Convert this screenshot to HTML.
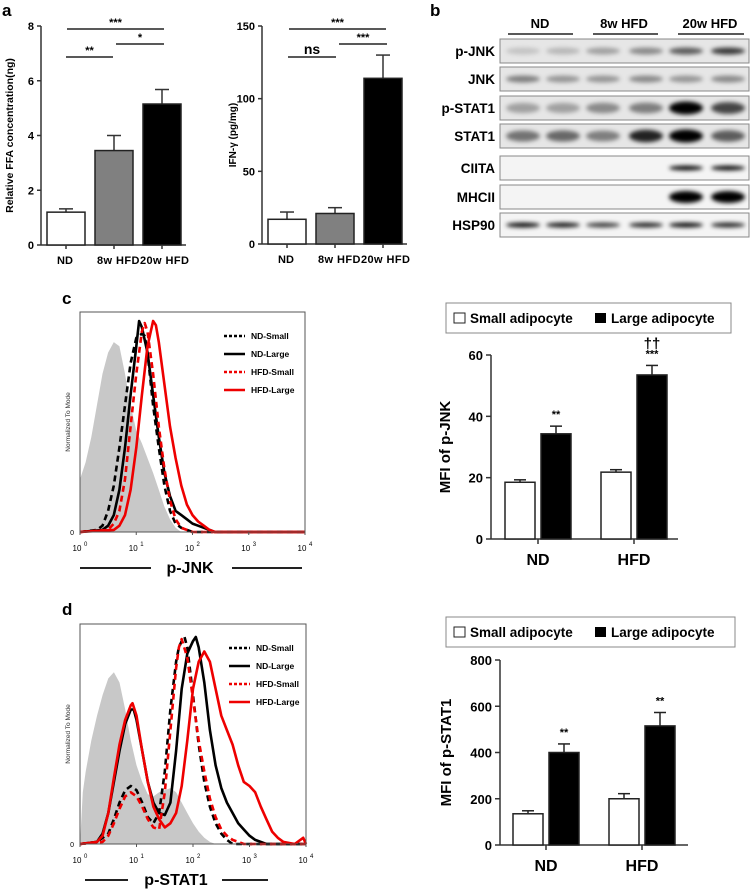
<!DOCTYPE html>
<html><head><meta charset="utf-8"><style>
html,body{margin:0;padding:0;background:#fff}
svg{display:block;font-family:"Liberation Sans",Arial,sans-serif}
.b{font-weight:bold}
</style></head><body>
<svg id="fig" width="753" height="889" viewBox="0 0 753 889" xmlns="http://www.w3.org/2000/svg">
<defs>
<filter id="blur" x="-50%" y="-100%" width="200%" height="300%"><feGaussianBlur stdDeviation="2.2"/></filter>
</defs>
<text x="2" y="16" font-size="17" class="b">a</text>
<text x="430" y="16" font-size="17" class="b">b</text>
<text x="62" y="304" font-size="17" class="b">c</text>
<text x="62" y="615" font-size="17" class="b">d</text>
<g id="g-ffa"></g>
<g id="g-ifn"></g>
<g id="g-blot"></g>
<g id="g-hc"></g>
<g id="g-hd"></g>
<g id="g-bc"></g>
<g id="g-bd"></g>
</svg>
<script>
// ---- Panel a data ----
const ffaCats = ["ND","8w HFD","20w HFD"];
const ffaVals = [1.2,3.45,5.15];
const ffaErr = [1.32,4.0,5.68];
const ffaTicks = [0,2,4,6,8];
const ifnCats = ["ND","8w HFD","20w HFD"];
const ifnVals = [17,21,114];
const ifnErr = [22,25,130];
const ifnTicks = [0,50,100,150];
// ---- Panel c/d bar data ----
const mfiCats = ["ND","HFD"];
const jnkSmall = [18.5,21.8];
const jnkLarge = [34.3,53.5];
const jnkSmallErr = [19.3,22.6];
const jnkLargeErr = [36.8,56.6];
const jnkTicks = [0,20,40,60];
const statSmall = [135,200];
const statLarge = [400,515];
const statSmallErr = [148,222];
const statLargeErr = [437,573];
const statTicks = [0,200,400,600,800];
// ---- histogram data (log10 intensity, normalized height) ----
const cGrayX=[0,0.1,0.2,0.3,0.4,0.5,0.6,0.7,0.8,0.9,1.0,1.1,1.2,1.3,1.4,1.5,1.6,1.7,1.8];
const cGrayY=[0.25,0.33,0.45,0.6,0.75,0.85,0.9,0.88,0.75,0.6,0.48,0.42,0.35,0.28,0.2,0.12,0.06,0.02,0];
const cNdSX=[0,0.3,0.4,0.5,0.6,0.7,0.8,0.9,1.0,1.1,1.15,1.2,1.3,1.4,1.5,1.6,1.7,1.8,1.9,2.0,4];
const cNdSY=[0,0.01,0.03,0.1,0.22,0.4,0.6,0.8,0.92,0.94,0.93,0.85,0.6,0.4,0.22,0.1,0.04,0.02,0.01,0,0];
const cNdLX=[0,0.4,0.5,0.6,0.7,0.8,0.9,1.0,1.05,1.1,1.2,1.3,1.4,1.5,1.6,1.7,1.8,1.9,2.0,2.1,2.2,2.3,2.4,4];
const cNdLY=[0,0.01,0.03,0.08,0.2,0.4,0.65,0.88,1.0,0.97,0.85,0.65,0.45,0.28,0.17,0.1,0.08,0.06,0.04,0.03,0.02,0.01,0,0];
const cHfSX=[0,0.5,0.6,0.7,0.8,0.9,1.0,1.1,1.15,1.2,1.3,1.4,1.5,1.6,1.7,1.8,1.9,2.0,4];
const cHfSY=[0,0.01,0.04,0.1,0.25,0.5,0.75,0.95,0.99,0.95,0.75,0.5,0.3,0.15,0.06,0.02,0.01,0,0];
const cHfLX=[0,0.6,0.7,0.8,0.9,1.0,1.1,1.2,1.3,1.35,1.4,1.5,1.6,1.7,1.8,1.9,2.0,2.1,2.2,2.3,2.4,4];
const cHfLY=[0,0.01,0.03,0.08,0.2,0.4,0.65,0.88,1.0,0.98,0.9,0.7,0.5,0.35,0.22,0.13,0.08,0.05,0.03,0.01,0,0];
const dGrayX=[0,0.05,0.1,0.2,0.3,0.4,0.5,0.6,0.7,0.8,0.9,1.0,1.1,1.2,1.3,1.4,1.5,1.6,1.7,1.8,1.9,2.0,2.1,2.2,2.3,2.4];
const dGrayY=[0,0.25,0.35,0.5,0.62,0.72,0.8,0.83,0.78,0.65,0.5,0.38,0.3,0.24,0.23,0.25,0.26,0.27,0.25,0.2,0.15,0.1,0.06,0.03,0.01,0];
const dNdSX=[0,0.3,0.5,0.6,0.7,0.8,0.9,1.0,1.1,1.2,1.3,1.4,1.5,1.6,1.7,1.75,1.8,1.85,1.9,2.0,2.1,2.2,2.3,2.4,2.5,2.6,2.7,4];
const dNdSY=[0,0.01,0.05,0.12,0.2,0.26,0.28,0.26,0.2,0.13,0.1,0.15,0.35,0.65,0.88,0.95,0.98,1.0,0.95,0.72,0.48,0.3,0.18,0.1,0.05,0.02,0,0];
const dNdLX=[0,0.3,0.4,0.5,0.6,0.7,0.8,0.9,0.95,1.0,1.1,1.2,1.3,1.4,1.5,1.6,1.7,1.8,1.9,2.0,2.05,2.1,2.2,2.3,2.4,2.5,2.6,2.7,2.8,2.9,3.0,3.1,3.3,4];
const dNdLY=[0,0.01,0.05,0.15,0.3,0.45,0.58,0.65,0.65,0.6,0.45,0.3,0.2,0.15,0.14,0.2,0.45,0.75,0.92,0.98,1.0,0.95,0.78,0.55,0.38,0.27,0.2,0.15,0.1,0.07,0.04,0.02,0,0];
const dHfSX=[0,0.4,0.5,0.6,0.7,0.8,0.9,1.0,1.1,1.2,1.3,1.4,1.5,1.6,1.7,1.75,1.8,1.9,2.0,2.1,2.2,2.3,2.4,2.5,2.6,2.7,2.8,2.9,4];
const dHfSY=[0,0.01,0.04,0.1,0.17,0.23,0.25,0.23,0.18,0.12,0.08,0.07,0.25,0.55,0.85,0.95,0.99,0.9,0.7,0.5,0.35,0.22,0.13,0.07,0.04,0.02,0.01,0,0];
const dHfLX=[0,0.3,0.4,0.5,0.6,0.7,0.8,0.9,0.93,1.0,1.1,1.2,1.3,1.4,1.5,1.6,1.7,1.8,1.9,2.0,2.1,2.2,2.3,2.4,2.5,2.6,2.7,2.8,2.9,3.0,3.1,3.2,3.3,3.4,3.5,3.6,3.8,3.95,4];
const dHfLY=[0,0.01,0.04,0.15,0.32,0.48,0.6,0.67,0.68,0.62,0.45,0.3,0.18,0.12,0.08,0.1,0.15,0.28,0.5,0.75,0.88,0.93,0.88,0.75,0.62,0.55,0.48,0.38,0.3,0.28,0.25,0.18,0.12,0.06,0.03,0.01,0,0.03,0];
const histTicks = ["0","1","2","3","4"];
// ---- blot intensities ----
const blotRows=["p-JNK","JNK","p-STAT1","STAT1","CIITA","MHCII","HSP90"];
const blotInt=[[0.15,0.2,0.3,0.4,0.6,0.75],[0.45,0.35,0.35,0.4,0.35,0.4],[0.3,0.3,0.4,0.45,1,0.7],[0.5,0.55,0.45,0.85,1,0.6],[0,0,0,0,0.95,0.95],[0,0,0,0,1,1],[0.95,0.9,0.75,0.85,0.95,0.85]];

const NS="http://www.w3.org/2000/svg";
function mk(parent,tag,attrs,txt){const e=document.createElementNS(NS,tag);for(const k in attrs)e.setAttribute(k,attrs[k]);if(txt!==undefined)e.textContent=txt;parent.appendChild(e);return e;}

// simple 3-bar chart
function barChart3(id,cats,vals,errs,ticks,o){
  const g=document.getElementById(id);
  const ys=v=>o.y0-(v/o.max)*(o.y0-o.yTop);
  const colors=["#fff","#808080","#000"];
  mk(g,"line",{x1:o.ax,y1:o.yTop,x2:o.ax,y2:o.y0,stroke:"#333","stroke-width":1.5});
  mk(g,"line",{x1:o.ax,y1:o.y0,x2:o.ax+o.w,y2:o.y0,stroke:"#333","stroke-width":1.5});
  ticks.forEach(t=>{
    mk(g,"line",{x1:o.ax-4,y1:ys(t),x2:o.ax,y2:ys(t),stroke:"#333","stroke-width":1.5});
    const tl=mk(g,"text",{x:o.ax-7,y:ys(t)+4,"font-size":11,"text-anchor":"end",class:"b"},String(t));
    
    
  });
  cats.forEach((c,i)=>{
    const x=o.ax+o.off+i*o.step, cx=x+o.bw/2;
    mk(g,"line",{x1:cx,y1:ys(errs[i]),x2:cx,y2:ys(vals[i]),stroke:"#333","stroke-width":1.5});
    mk(g,"line",{x1:cx-7,y1:ys(errs[i]),x2:cx+7,y2:ys(errs[i]),stroke:"#333","stroke-width":1.5});
    const r=mk(g,"rect",{x:x,y:ys(vals[i]),width:o.bw,height:o.y0-ys(vals[i]),fill:colors[i],stroke:"#222","stroke-width":1.5});
    
    
    mk(g,"line",{x1:cx,y1:o.y0,x2:cx,y2:o.y0+4,stroke:"#333","stroke-width":1.5});
  });
  const xl=mk(g,"text",{x:o.ax+o.off+o.bw/2-9,y:o.y0+19,"font-size":11,class:"b"},"ND");
  
  
  const xl2=mk(g,"text",{x:o.ax+o.off+o.step+2,y:o.y0+19,"font-size":11,class:"b","textLength":o.step*2-4},"8w HFD20w HFD");
  
  
  const yt=mk(g,"text",{x:0,y:0,"font-size":o.tfs,class:"b","text-anchor":"middle",transform:`translate(${o.tx},${(o.yTop+o.y0)/2}) rotate(-90)`},o.title);
  
  
  o.sig.forEach(s=>{
    mk(g,"line",{x1:s[0],y1:s[2],x2:s[1],y2:s[2],stroke:"#222","stroke-width":1.5});
    const st=mk(g,"text",{x:(s[0]+s[1])/2,y:s[2]-3,"font-size":s[3]==="ns"?14:11,class:"b","text-anchor":"middle"},s[3]);
    
    
  });
}
barChart3("g-ffa",ffaCats,ffaVals,ffaErr,ffaTicks,{ax:41,y0:245,yTop:26,max:8,w:145,off:6,step:48,bw:38,tx:13,tfs:10.5,title:"Relative FFA concentration(ng)",
  sig:[[67,164,29,"***"],[66,113,57,"**"],[116,164,44,"*"]]});
barChart3("g-ifn",ifnCats,ifnVals,ifnErr,ifnTicks,{ax:262,y0:244,yTop:26,max:150,w:145,off:6,step:48,bw:38,tx:236,tfs:10,title:"IFN-γ (pg/mg)",
  sig:[[289,386,29,"***"],[288,336,57,"ns"],[339,387,44,"***"]]});

// western blot
(function(){
  const g=document.getElementById("g-blot");
  const heads=[["ND",540,508,573],["8w HFD",624,593,658],["20w HFD",710,678,744]];
  heads.forEach(h=>{
    const t=mk(g,"text",{x:h[1],y:28,"font-size":13,class:"b","text-anchor":"middle"},h[0]);
    
    
    mk(g,"line",{x1:h[2],y1:34,x2:h[3],y2:34,stroke:"#222","stroke-width":1.5});
  });
  const tops=[39,67,96,124,156,185,213];
  const lanes=[523,563,603,646,686,728];
  blotRows.forEach((r,i)=>{
    const y=tops[i], h=24;
    const box=mk(g,"rect",{x:500,y:y,width:249,height:h,fill:i<4?"#e6e6e6":"#f4f4f4",stroke:"#888","stroke-width":1});
    
    
    const lb=mk(g,"text",{x:495,y:y+h/2+5,"font-size":13.5,class:"b","text-anchor":"end"},r);
    
    
    lanes.forEach((lx,j)=>{
      const v=blotInt[i][j]; if(v<=0)return;
      const bh=(r==="MHCII"?12:r==="STAT1"||r==="p-STAT1"?9+4*v:r==="HSP90"||r==="CIITA"?5:7);
      mk(g,"ellipse",{cx:lx,cy:y+h/2,rx:17,ry:bh/2,fill:"#000","fill-opacity":Math.min(1,v),filter:"url(#blur)"});
    });
  });
})();

// histogram
function hist(id,o,series){
  const g=document.getElementById(id);
  const xs=l=>o.x0+l*(o.x1-o.x0)/4, ys=h=>o.yb-h*o.H;
  series.forEach(s=>{
    let d="";
    s.x.forEach((l,k)=>{d+=(k?"L":"M")+xs(l).toFixed(1)+","+ys(s.y[k]).toFixed(1);});
    if(s.fill){d+=`L${xs(s.x[s.x.length-1])},${o.yb}L${xs(s.x[0])},${o.yb}Z`;}
    const p=mk(g,"path",{d:d,fill:s.fill||"none",stroke:s.fill?"none":s.c,"stroke-width":2.6,"stroke-dasharray":s.dash?"6,4":"none","stroke-linejoin":"round"});
    
    
  });
  mk(g,"rect",{x:o.x0,y:o.yt,width:o.x1-o.x0,height:o.yb-o.yt,fill:"none",stroke:"#555","stroke-width":1});
  mk(g,"text",{x:o.x0-6,y:o.yb+3,"font-size":7,"text-anchor":"end"},"0");
  histTicks.forEach((t,k)=>{
    const x=xs(k);
    mk(g,"line",{x1:x,y1:o.yb,x2:x,y2:o.yb+3,stroke:"#555"});
    const tl=mk(g,"text",{x:x-3,y:o.yb+19,"font-size":8,"text-anchor":"middle"},"10");
    
    
    mk(g,"text",{x:x+4,y:o.yb+14,"font-size":6},t);
  });
  const yl=mk(g,"text",{x:0,y:0,"font-size":6.5,"text-anchor":"middle",fill:"#333",transform:`translate(${o.x0-10},${(o.yt+o.yb)/2}) rotate(-90)`},"Normalized To Mode");
  
  
  const xl=mk(g,"text",{x:o.lx,y:o.ly,"font-size":16,class:"b","text-anchor":"middle"},o.label);
  
  
  o.lines.forEach(l=>mk(g,"line",{x1:l[0],y1:o.ly-5,x2:l[1],y2:o.ly-5,stroke:"#222","stroke-width":2}));
  const leg=[["ND-Small","#000",1],["ND-Large","#000",0],["HFD-Small","#e00",1],["HFD-Large","#e00",0]];
  leg.forEach((e,k)=>{
    const y=o.legY+k*o.legDy;
    mk(g,"line",{x1:o.legX,y1:y,x2:o.legX+21,y2:y,stroke:e[1],"stroke-width":2.4,"stroke-dasharray":e[2]?"3,2":"none"});
    const t=mk(g,"text",{x:o.legX+27,y:y+3,"font-size":8.5,class:"b"},e[0]);
    
    
  });
}
hist("g-hc",{x0:80,x1:305,yt:312,yb:532,H:211,label:"p-JNK",lx:190,ly:573,lines:[[80,151],[232,302]],legX:224,legY:336,legDy:18},
 [{x:cGrayX,y:cGrayY,fill:"#c8c8c8",name:"isotype-fill"},
  {x:cNdSX,y:cNdSY,c:"#000",dash:1,name:"nd-small-line"},
  {x:cNdLX,y:cNdLY,c:"#000",name:"nd-large-line"},
  {x:cHfSX,y:cHfSY,c:"#e00",dash:1,name:"hfd-small-line"},
  {x:cHfLX,y:cHfLY,c:"#e00",name:"hfd-large-line"}]);
hist("g-hd",{x0:80,x1:306,yt:624,yb:844,H:207,label:"p-STAT1",lx:176,ly:885,lines:[[85,128],[222,268]],legX:229,legY:648,legDy:18},
 [{x:dGrayX,y:dGrayY,fill:"#c8c8c8",name:"isotype-fill"},
  {x:dNdSX,y:dNdSY,c:"#000",dash:1,name:"nd-small-line"},
  {x:dNdLX,y:dNdLY,c:"#000",name:"nd-large-line"},
  {x:dHfSX,y:dHfSY,c:"#e00",dash:1,name:"hfd-small-line"},
  {x:dHfLX,y:dHfLY,c:"#e00",name:"hfd-large-line"}]);

// grouped MFI bars
function mfi(id,small,large,se,le,ticks,o){
  const g=document.getElementById(id);
  const ys=v=>o.y0-(v/o.max)*(o.y0-o.yTop);
  const lb=mk(g,"rect",{x:o.lgx0,y:o.lgy0,width:o.lgx1-o.lgx0,height:o.lgy1-o.lgy0,fill:"#fff",stroke:"#888","stroke-width":1});
  
  
  const ly=(o.lgy0+o.lgy1)/2;
  mk(g,"rect",{x:o.lgx0+8,y:ly-5,width:11,height:10,fill:"#fff",stroke:"#222"});
  const t1=mk(g,"text",{x:o.lgx0+24,y:ly+5,"font-size":13.5,class:"b"},"Small adipocyte");
  
  
  mk(g,"rect",{x:o.lgx0+149,y:ly-5,width:11,height:10,fill:"#000"});
  const t2=mk(g,"text",{x:o.lgx0+165,y:ly+5,"font-size":13.5,class:"b"},"Large adipocyte");
  
  
  mk(g,"line",{x1:o.ax,y1:o.yTop,x2:o.ax,y2:o.y0,stroke:"#333","stroke-width":1.5});
  mk(g,"line",{x1:o.ax,y1:o.y0,x2:o.axEnd,y2:o.y0,stroke:"#333","stroke-width":1.5});
  ticks.forEach(t=>{
    mk(g,"line",{x1:o.ax-5,y1:ys(t),x2:o.ax,y2:ys(t),stroke:"#333","stroke-width":1.5});
    const tl=mk(g,"text",{x:o.ax-8,y:ys(t)+5,"font-size":13,class:"b","text-anchor":"end"},String(t));
    
    
  });
  mfiCats.forEach((c,i)=>{
    const gx=o.ax+o.off+i*o.step;
    [[small,se,"#fff",0],[large,le,"#000",1]].forEach(s=>{
      const x=gx+s[3]*(o.bw+6), cx=x+o.bw/2;
      mk(g,"line",{x1:cx,y1:ys(s[1][i]),x2:cx,y2:ys(s[0][i]),stroke:"#222","stroke-width":1.5});
      mk(g,"line",{x1:cx-6,y1:ys(s[1][i]),x2:cx+6,y2:ys(s[1][i]),stroke:"#222","stroke-width":1.5});
      const r=mk(g,"rect",{x:x,y:ys(s[0][i]),width:o.bw,height:o.y0-ys(s[0][i]),fill:s[2],stroke:"#222","stroke-width":1.5});
      
      
    });
    const tx=gx+o.bw+3;
    mk(g,"line",{x1:tx,y1:o.y0,x2:tx,y2:o.y0+5,stroke:"#333","stroke-width":1.5});
    const xl=mk(g,"text",{x:tx,y:o.y0+26,"font-size":16,class:"b","text-anchor":"middle"},c);
    
    
    const sx=gx+o.bw*1.5+6;
    const st=mk(g,"text",{x:sx,y:ys(le[i])-8,"font-size":11,class:"b","text-anchor":"middle"},o.stars[i]);
    
    
    if(o.dagger[i]){mk(g,"text",{x:sx,y:ys(le[i])-17,"font-size":15,class:"b","text-anchor":"middle"},o.dagger[i]);}
  });
  const yt=mk(g,"text",{x:0,y:0,"font-size":15,class:"b","text-anchor":"middle",transform:`translate(${o.tx},${(o.yTop+o.y0)/2}) rotate(-90)`},o.title);
  
  
}
mfi("g-bc",jnkSmall,jnkLarge,jnkSmallErr,jnkLargeErr,jnkTicks,{ax:491,y0:539,yTop:355,max:60,axEnd:678,off:14,step:96,bw:30,tx:450,title:"MFI of p-JNK",
  lgx0:446,lgx1:731,lgy0:303,lgy1:333,stars:["**","***"],dagger:["","††"]});
mfi("g-bd",statSmall,statLarge,statSmallErr,statLargeErr,statTicks,{ax:500,y0:845,yTop:660,max:800,axEnd:688,off:13,step:96,bw:30,tx:451,title:"MFI of p-STAT1",
  lgx0:446,lgx1:735,lgy0:617,lgy1:647,stars:["**","**"],dagger:["",""]});
</script>
</body></html>
